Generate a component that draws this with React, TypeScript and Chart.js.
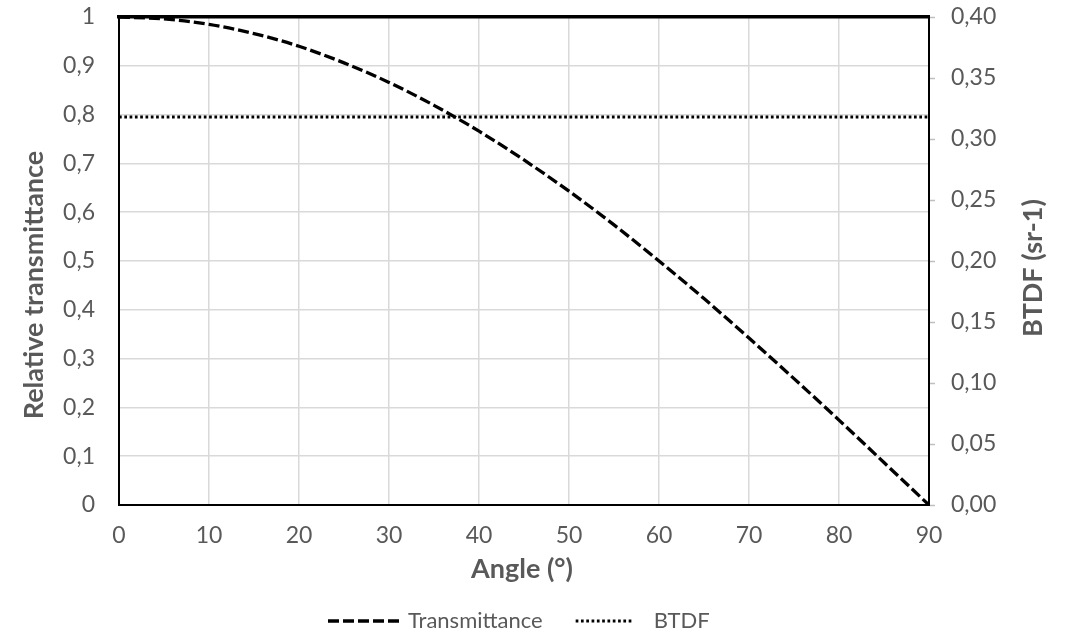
import React, { useEffect, useRef } from "react";
import { Chart, registerables } from "chart.js";

Chart.register(...registerables);

// ---- Data ----
const angles = [0, 5, 10, 15, 20, 25, 30, 35, 40, 45, 50, 55, 60, 65, 70, 75, 80, 85, 90];
const transmittance = [1, 0.996, 0.985, 0.966, 0.94, 0.906, 0.866, 0.819, 0.766, 0.707, 0.643, 0.574, 0.5, 0.423, 0.342, 0.259, 0.174, 0.087, 0];
const btdfAngles = [0, 90];
const btdf = [0.318, 0.318];
const seriesNames = ["Transmittance", "BTDF"];
const xTitle = "Angle (°)";
const yTitle = "Relative transmittance";
const y1Title = "BTDF (sr-1)";

const GREY = "#595959";
const GRID = "#d9d9d9";
const FONT = "Lato";
const TICK_SIZE = 23;

const overlay = {
  id: "overlay",
  afterDraw(chart: any) {
    const ctx = chart.ctx as CanvasRenderingContext2D;
    const ca = chart.chartArea;
    ctx.save();
    ctx.fillStyle = GREY;
    ctx.font = `bold 27px ${FONT}`;
    ctx.textAlign = "center";
    ctx.textBaseline = "alphabetic";
    ctx.fillText(xTitle, (ca.left + ca.right) / 2 - 2, ca.bottom + 73);
    ctx.save();
    ctx.translate(ca.left - 76, 285);
    ctx.rotate(-Math.PI / 2);
    ctx.fillText(yTitle, 0, 0);
    ctx.restore();
    ctx.save();
    ctx.translate(ca.right + 113, 268);
    ctx.rotate(-Math.PI / 2);
    ctx.fillText(y1Title, 0, 0);
    ctx.restore();

    // legend
    let x = 328;
    const cy = ca.bottom + 116;
    ctx.font = `22px ${FONT}`;
    chart.data.datasets.forEach((ds: any) => {
      if (!ds.inLegend) return;
      const w = ds.legendSample || 72;
      ctx.strokeStyle = ds.borderColor;
      ctx.lineWidth = ds.borderWidth;
      ctx.setLineDash(ds.borderDash || []);
      ctx.beginPath();
      ctx.moveTo(x, cy);
      ctx.lineTo(x + w, cy);
      ctx.stroke();
      ctx.setLineDash([]);
      x += w + (ds.legendGap || 8);
      ctx.textAlign = "left";
      ctx.textBaseline = "middle";
      ctx.fillStyle = GREY;
      ctx.fillText(ds.label, x, cy);
      x += ctx.measureText(ds.label).width + 33;
    });
    ctx.restore();
  },
};

export default function App() {
  const ref = useRef<HTMLCanvasElement>(null);
  useEffect(() => {
    if (!ref.current) return;
    const noPad = (s: any) => { s.paddingTop = 0; s.paddingBottom = 0; };
    const chart = new Chart(ref.current, {
      type: "line",
      data: {
        datasets: [
          {
            label: seriesNames[0],
            data: angles.map((a, i) => ({ x: a, y: transmittance[i] })),
            borderColor: "#000",
            borderWidth: 3.3,
            borderDash: [11, 4],
            pointRadius: 0,
            cubicInterpolationMode: "monotone",
            xAxisID: "x",
            yAxisID: "y",
            inLegend: true,
            legendSample: 72,
            legendGap: 8,
          } as any,
          {
            label: seriesNames[1],
            data: btdfAngles.map((a, i) => ({ x: a, y: btdf[i] })),
            borderColor: "#000",
            borderWidth: 3,
            borderDash: [2.7, 2.6],
            pointRadius: 0,
            xAxisID: "x",
            yAxisID: "y1",
            inLegend: true,
            legendSample: 56,
            legendGap: 22,
          } as any,
        ],
      },
      options: {
        animation: false,
        responsive: false,
        layout: { padding: { top: 17, left: 0, right: 0, bottom: 0 } },
        plugins: { legend: { display: false }, tooltip: { enabled: false } },
        scales: {
          x: {
            type: "linear",
            position: "bottom",
            min: 0,
            max: 90,
            ticks: { stepSize: 10, color: GREY, font: { family: FONT, size: TICK_SIZE }, padding: 17 },
            grid: { color: GRID, lineWidth: 1.5, drawTicks: false },
            border: { color: "#000", width: 2 },
            afterFit: (s: any) => { s.height = 128; },
          },
          x2: {
            type: "linear",
            position: "top",
            min: 0,
            max: 90,
            ticks: { display: false },
            grid: { drawOnChartArea: false, drawTicks: false },
            border: { color: "#000", width: 3.5 },
            afterFit: (s: any) => { s.height = 0; s.paddingLeft = 0; s.paddingRight = 0; },
          },
          y: {
            type: "linear",
            position: "left",
            min: 0,
            max: 1,
            ticks: {
              stepSize: 0.1,
              color: GREY,
              font: { family: FONT, size: TICK_SIZE },
              padding: 24,
              callback: (v: any) => String(Math.round(Number(v) * 10) / 10).replace(".", ","),
            },
            grid: { color: GRID, lineWidth: 1.5, drawTicks: false },
            border: { color: "#000", width: 2 },
            afterFit: (s: any) => { s.width = 119; noPad(s); },
          },
          y1: {
            type: "linear",
            position: "right",
            min: 0,
            max: 0.4,
            ticks: {
              stepSize: 0.05,
              color: GREY,
              font: { family: FONT, size: TICK_SIZE },
              padding: 16,
              callback: (v: any) => Number(v).toFixed(2).replace(".", ","),
            },
            grid: { drawOnChartArea: false, drawTicks: true, tickLength: 6, tickColor: "#bfbfbf", tickWidth: 1.5 },
            border: { color: "#000", width: 2 },
            afterFit: (s: any) => { s.width = 142; noPad(s); },
          },
        },
      } as any,
      plugins: [overlay],
    });
    return () => chart.destroy();
  }, []);
  return (
    <div style={{ position: "fixed", left: 0, top: 0, width: 1071, height: 633, background: "#fff" }}>
      <canvas ref={ref} width={1071} height={633} />
    </div>
  );
}
